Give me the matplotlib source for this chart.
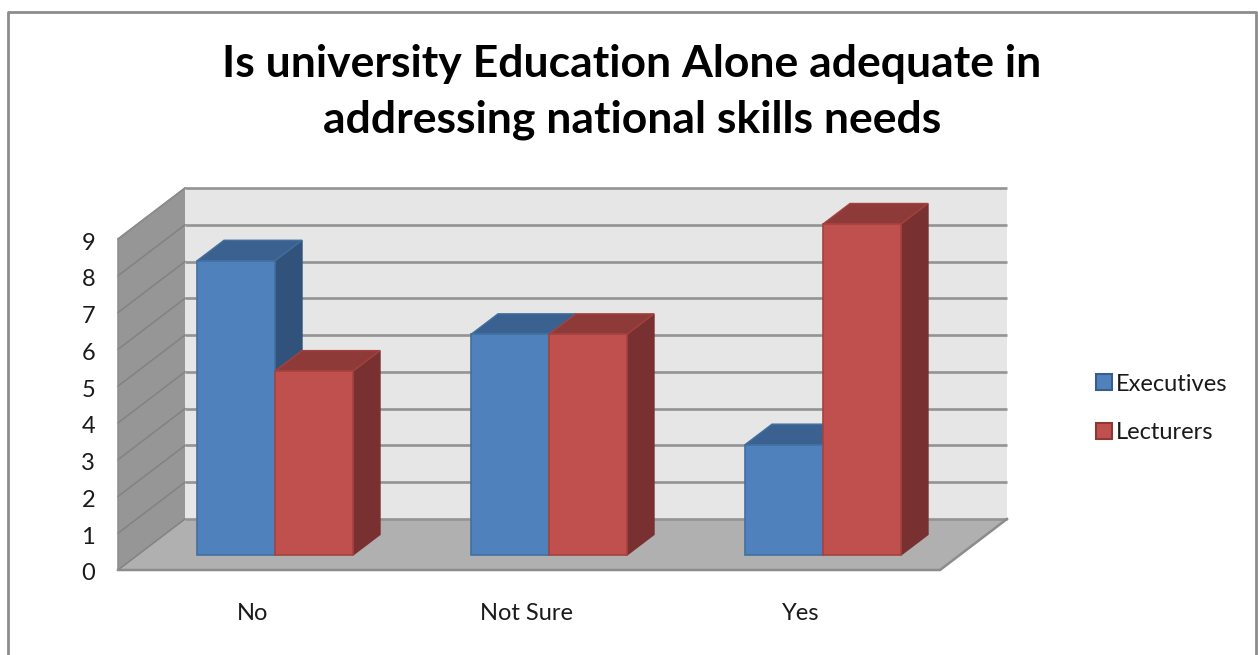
import matplotlib
matplotlib.use('Agg')
import matplotlib.pyplot as plt
from matplotlib.patches import Rectangle
from matplotlib.transforms import ScaledTranslation

plt.rcParams['font.family'] = ['Lato', 'DejaVu Sans']

categories = ['No', 'Not Sure', 'Yes']
executives = [8, 6, 3]
lecturers = [5, 6, 9]
y_ticks = [0, 1, 2, 3, 4, 5, 6, 7, 8, 9]
title = 'Is university Education Alone adequate in\naddressing national skills needs'

W, H = 1258, 655
fig = plt.figure(figsize=(W / 100, H / 100), dpi=100, facecolor='white')

# front edge of the floor, in pixels
left, right, bottom, top = 118, 940, 570, 239
ax = fig.add_axes([left / W, 1 - bottom / H, (right - left) / W, (bottom - top) / H])
ax.set_xlim(0, 3)
ax.set_ylim(0, 9)
ax.patch.set_visible(False)
for s in ax.spines.values():
    s.set_visible(False)

px = 3 / (right - left)
py = 9 / (bottom - top)

# 3d look: shift of the back wall and of the bars, converted to data units
wall_dx, wall_dy = 67 * px, 51 * py
bar_dx, bar_dy = 20 * px, 15 * py
depth_dx, depth_dy = 27 * px, 20.5 * py
bar_w = 78 * px

# walls and floor
ax.fill([0, wall_dx, wall_dx, 0], [0, wall_dy, 9 + wall_dy, 9], color='#969696', lw=0, clip_on=False, zorder=1)
ax.fill([wall_dx, 3 + wall_dx, 3 + wall_dx, wall_dx], [wall_dy, wall_dy, 9 + wall_dy, 9 + wall_dy],
        color='#e6e6e6', lw=0, clip_on=False, zorder=1)
ax.fill([0, 3, 3 + wall_dx, wall_dx], [0, 0, wall_dy, wall_dy], color='#b0b0b0', lw=0, clip_on=False, zorder=1)

for v in y_ticks:
    ax.plot([0, wall_dx], [v, v + wall_dy], color='#828282', lw=1.1, clip_on=False, zorder=2)
    ax.plot([wall_dx, 3 + wall_dx], [v + wall_dy, v + wall_dy], color='#939393', lw=1.9, clip_on=False, zorder=2,
            solid_capstyle='butt')
ax.plot([0, 3, 3 + wall_dx], [0, 0, wall_dy], color='#8c8c8c', lw=1.8, clip_on=False, zorder=2)
ax.plot([0, 0, wall_dx], [0, 9, 9 + wall_dy], color='#8c8c8c', lw=1.1, clip_on=False, zorder=2)


def draw_bars(values, x_off, face, top_col, side_col, edge, name, z):
    xs = [i + 0.5 + bar_dx + x_off for i in range(len(values))]
    for x, v in zip(xs, values):
        x0 = x
        x1 = x + bar_w
        ax.fill([x1, x1 + depth_dx, x1 + depth_dx, x1],
                [bar_dy, bar_dy + depth_dy, bar_dy + v + depth_dy, bar_dy + v],
                facecolor=side_col, edgecolor=side_col, lw=1, clip_on=False, zorder=z)
        ax.fill([x0, x1, x1 + depth_dx, x0 + depth_dx],
                [bar_dy + v, bar_dy + v, bar_dy + v + depth_dy, bar_dy + v + depth_dy],
                facecolor=top_col, edgecolor=edge, lw=1, clip_on=False, zorder=z)
    return ax.bar(xs, values, bottom=bar_dy, width=bar_w, align='edge', color=face, edgecolor=edge,
                  lw=1.2, clip_on=False, zorder=z + 0.5, label=name)


b1 = draw_bars(executives, -bar_w, '#4f81bd', '#3a6190', '#31527a', '#41709f', 'Executives', 3)
b2 = draw_bars(lecturers, 0, '#c0504d', '#8e3a38', '#783130', '#a5423f', 'Lecturers', 4)

ax.set_yticks(y_ticks)
ax.set_xticks([i + 0.5 for i in range(len(categories))])
ax.set_xticklabels(categories)
ax.tick_params(axis='both', length=0, labelsize=17, labelcolor='#1a1a1a')
ax.tick_params(axis='y', pad=16.5)
ax.tick_params(axis='x', pad=24)

# nudge tick labels a couple of pixels
for lab in ax.get_yticklabels():
    lab.set_transform(lab.get_transform() + ScaledTranslation(0, -2 / 100, fig.dpi_scale_trans))
for lab in ax.get_xticklabels():
    lab.set_transform(lab.get_transform() + ScaledTranslation(-2 / 100, 0, fig.dpi_scale_trans))

fig.text(632 / W, 1 - 92 / H, title, ha='center', va='center', fontsize=32, fontweight='bold',
         color='black', linespacing=1.5)

handles = [Rectangle((0, 0), 1, 1, facecolor='#4f81bd', edgecolor='#385d8a', lw=1.5),
           Rectangle((0, 0), 1, 1, facecolor='#c0504d', edgecolor='#8c3836', lw=1.5)]
fig.legend(handles, ['Executives', 'Lecturers'], loc='center left', bbox_to_anchor=(1075 / W, 1 - 408.5 / H),
           frameon=False, fontsize=17, handlelength=0.68, handleheight=0.68, handletextpad=0.17,
           labelspacing=1.18, labelcolor='#1a1a1a')

# outer chart frame
fig.add_artist(plt.Line2D([7.5 / W, 7.5 / W, 1256 / W, 1256 / W], [0, 1 - 11.5 / H, 1 - 11.5 / H, 0],
                          color='#8c8c8c', lw=2))

fig.savefig('out.png', dpi=100)
